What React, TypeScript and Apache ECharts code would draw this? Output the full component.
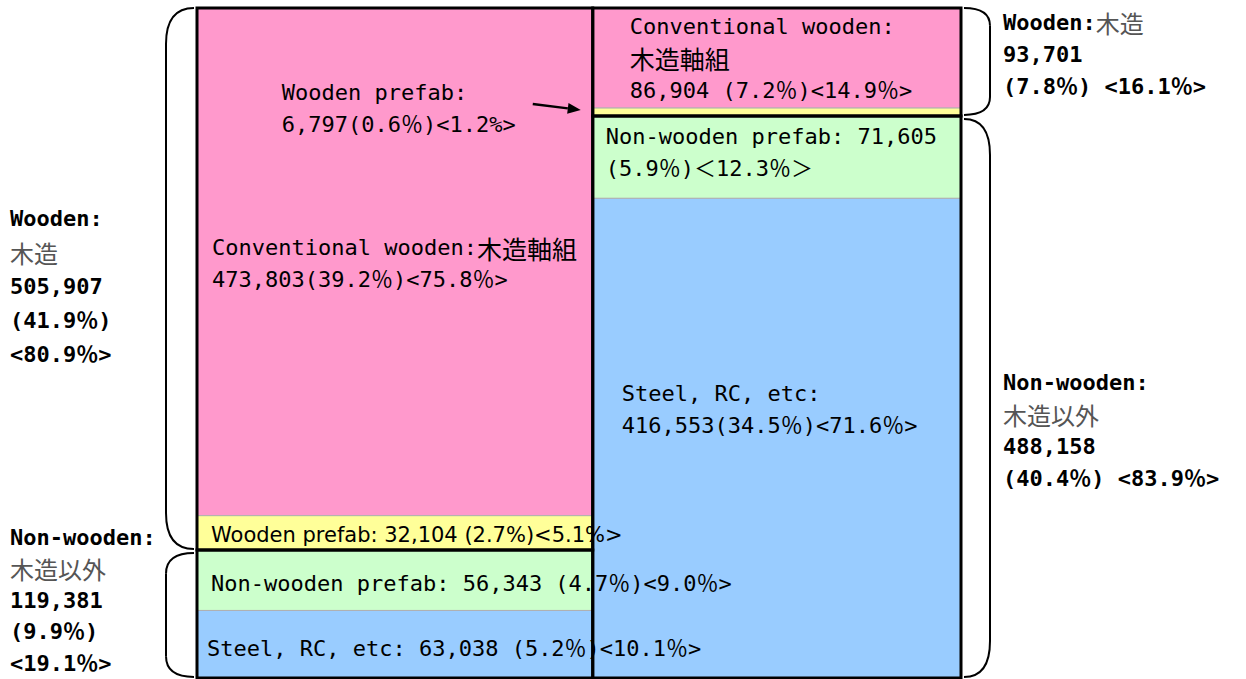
import React, { useEffect, useRef } from "react";
import * as echarts from "echarts";

// ---------- data ----------
const columnNames = ["Column A", "Column B"];
const structureTypes = ["Conventional wooden", "Wooden prefab", "Non-wooden prefab", "Steel, RC, etc"];
const columnAValues = [473803, 32104, 56343, 63038];
const columnBValues = [86904, 6797, 71605, 416553];
const structureGroup = [0, 0, 1, 1];
const groupNames = ["Wooden", "Non-wooden"];

const columnALabels = [
  "Conventional wooden:{j|木造軸組}\n473,803(39.2％)<75.8％>",
  "Wooden prefab: 32,104 (2.7%)<5.1%>",
  "Non-wooden prefab: 56,343 (4.7％)<9.0％>",
  "Steel, RC, etc: 63,038 (5.2％)<10.1％>",
];
const columnBLabels = [
  "Conventional wooden:\n{j|木造軸組}\n86,904 (7.2％)<14.9％>",
  "Wooden prefab:\n6,797(0.6％)<1.2%>",
  "Non-wooden prefab: 71,605\n(5.9％)＜12.3％＞",
  "Steel, RC, etc:\n416,553(34.5％)<71.6％>",
];
const columnAGroupLabels = [
  "{b|Wooden:}\n{g|木造}\n{b|505,907}\n{b|(41.9％)}\n{b|<80.9％>}",
  "{b|Non-wooden:}\n{g|木造以外}\n{b|119,381}\n{b|(9.9％)}\n{b|<19.1％>}",
];
const columnBGroupLabels = [
  "{b|Wooden:}{g|木造}\n{b|93,701}\n{b|(7.8％) <16.1％>}",
  "{b|Non-wooden:}\n{g|木造以外}\n{b|488,158}\n{b|(40.4％) <83.9％>}",
];

// ---------- styles ----------
const typeColors = ["#FF99CC", "#FFFF99", "#CCFFCC", "#99CCFF"];
const monoFont = "'DejaVu Sans Mono', 'Noto Sans CJK JP', monospace";
const cjkFont = "'Noto Sans CJK JP', sans-serif";
const cellLabelPlacement = [
  [
    { dx: 15, dy: 2 },
    { dx: 14, dy: 2, proportional: true },
    { dx: 14, dy: 3 },
    { dx: 10, dy: 4 },
  ],
  [
    { dx: 37, dy: 0 },
    { dx: -311, dy: -3, arrow: true },
    { dx: 13, dy: -5 },
    { dx: 29, dy: -29 },
  ],
];
const groupLabelPlacement = [
  [{ dy: 7, lh: 34 }, { dy: -14, lh: 31.5 }],
  [{ dy: -7, lh: 32 }, { dy: 34, lh: 32 }],
];

// ---------- derived tables ----------
const allColumns = [columnAValues, columnBValues];
const allCellLabels = [columnALabels, columnBLabels];
const allGroupLabels = [columnAGroupLabels, columnBGroupLabels];
const grandTotal = allColumns.reduce((s, col) => s + col.reduce((a, b) => a + b, 0), 0);

const cellData: number[][] = [];
const groupData: number[][] = [];
{
  let xStart = 0;
  allColumns.forEach((vals, c) => {
    const colTotal = vals.reduce((a, b) => a + b, 0);
    let yStart = 0;
    vals.forEach((v, t) => {
      cellData.push([xStart, xStart + colTotal, yStart / colTotal, (yStart + v) / colTotal, c, t]);
      yStart += v;
    });
    let gStart = 0;
    groupNames.forEach((_, g) => {
      const gSum = vals.reduce((a, v, t) => a + (structureGroup[t] === g ? v : 0), 0);
      groupData.push([xStart, xStart + colTotal, gStart / colTotal, (gStart + gSum) / colTotal, c, g]);
      gStart += gSum;
    });
    xStart += colTotal;
  });
}

export default function App() {
  const ref = useRef<HTMLDivElement>(null);
  useEffect(() => {
    if (!ref.current) return;
    const chart = echarts.init(ref.current, null, { renderer: "svg" });

    const box = (api: any) => {
      const p0 = api.coord([api.value(0), api.value(2)]);
      const p1 = api.coord([api.value(1), api.value(3)]);
      return { x0: p0[0], y0: p0[1], x1: p1[0], y1: p1[1] };
    };

    const option: any = {
      animation: false,
      grid: { left: 197, right: 285, top: 8, bottom: 1 },
      xAxis: { type: "value", min: 0, max: grandTotal, show: false },
      yAxis: { type: "value", min: 0, max: 1, inverse: true, show: false },
      tooltip: { show: false },
      series: [
        {
          name: "cells",
          type: "custom",
          z: 2,
          data: cellData,
          encode: { x: [0, 1], y: [2, 3] },
          renderItem: (params: any, api: any) => {
            const b = box(api);
            return {
              type: "rect",
              shape: { x: b.x0, y: b.y0, width: b.x1 - b.x0, height: b.y1 - b.y0 },
              style: { fill: typeColors[api.value(5)], stroke: "#b0b0b0", lineWidth: 1 },
            };
          },
        },
        {
          name: "cellLabels",
          type: "custom",
          z: 3,
          data: cellData,
          encode: { x: [0, 1], y: [2, 3] },
          renderItem: (params: any, api: any) => {
            const b = box(api);
            const c = api.value(4);
            const t = api.value(5);
            const pl: any = cellLabelPlacement[c][t];
            const midY = (b.y0 + b.y1) / 2;
            const children: any[] = [
              {
                type: "text",
                x: b.x0 + pl.dx,
                y: midY + pl.dy,
                style: {
                  text: allCellLabels[c][t],
                  fill: "#000",
                  fontFamily: pl.proportional ? "'DejaVu Sans', 'Noto Sans CJK JP', sans-serif" : monoFont,
                  fontSize: pl.proportional ? 21 : 22,
                  lineHeight: 32,
                  align: "left",
                  verticalAlign: "middle",
                  rich: {
                    j: { fontFamily: cjkFont, fontSize: 25, lineHeight: 32, fill: "#000" },
                  },
                },
              },
            ];
            if (pl.arrow) {
              const ex = b.x0 - 12;
              const ey = midY - 2;
              const sx = b.x0 - 60;
              const sy = midY - 8;
              const ang = Math.atan2(ey - sy, ex - sx);
              const L = 13;
              const W = 5.5;
              const bx = ex - L * Math.cos(ang);
              const by = ey - L * Math.sin(ang);
              children.push({
                type: "line",
                shape: { x1: sx, y1: sy, x2: bx, y2: by },
                style: { stroke: "#000", lineWidth: 2.5, fill: "none" },
              });
              children.push({
                type: "polygon",
                shape: {
                  points: [
                    [ex, ey],
                    [bx - W * Math.sin(ang), by + W * Math.cos(ang)],
                    [bx + W * Math.sin(ang), by - W * Math.cos(ang)],
                  ],
                },
                style: { fill: "#000" },
              });
            }
            return { type: "group", children };
          },
        },
        {
          name: "groupBorders",
          type: "custom",
          z: 4,
          data: groupData,
          encode: { x: [0, 1], y: [2, 3] },
          renderItem: (params: any, api: any) => {
            const b = box(api);
            return {
              type: "rect",
              shape: { x: b.x0, y: b.y0, width: b.x1 - b.x0, height: b.y1 - b.y0 },
              style: { fill: "none", stroke: "#000", lineWidth: 3 },
            };
          },
        },
        {
          name: "groupBraces",
          type: "custom",
          z: 5,
          data: groupData,
          encode: { x: [0, 1], y: [2, 3] },
          renderItem: (params: any, api: any) => {
            const b = box(api);
            const c = api.value(4);
            const g = api.value(5);
            const left = c === 0;
            const xin = left ? b.x0 - 3 : b.x1 + 3;
            const xout = left ? b.x0 - 31 : b.x1 + 29;
            const yt = b.y0 + (g === 0 ? 0 : 3);
            const yb = b.y1 - 1;
            const r = Math.min(36, (yb - yt) / 6);
            const lineStyle = { stroke: "#000", lineWidth: 2, fill: "none" };
            const pl = groupLabelPlacement[c][g];
            const midY = (b.y0 + b.y1) / 2;
            return {
              type: "group",
              children: [
                { type: "bezierCurve", shape: { x1: xin, y1: yt, x2: xout, y2: yt + r, cpx1: xout, cpy1: yt }, style: lineStyle },
                { type: "line", shape: { x1: xout, y1: yt + r, x2: xout, y2: yb - r }, style: lineStyle },
                { type: "bezierCurve", shape: { x1: xout, y1: yb - r, x2: xin, y2: yb, cpx1: xout, cpy1: yb }, style: lineStyle },
                {
                  type: "text",
                  x: left ? b.x0 - 187 : b.x1 + 42,
                  y: midY + pl.dy,
                  style: {
                    text: allGroupLabels[c][g],
                    align: "left",
                    verticalAlign: "middle",
                    fill: "#000",
                    fontSize: 22,
                    fontFamily: monoFont,
                    lineHeight: pl.lh,
                    rich: {
                      b: { fontFamily: monoFont, fontWeight: "bold", fontSize: 22, fill: "#000", lineHeight: pl.lh },
                      g: { fontFamily: cjkFont, fontWeight: "normal", fontSize: 24, fill: "#555", lineHeight: pl.lh },
                    },
                  },
                },
              ],
            };
          },
        },
      ],
    };
    chart.setOption(option);
    return () => chart.dispose();
  }, []);
  return (
    <div
      ref={ref}
      style={{ position: "absolute", left: 0, top: 0, width: 1246, height: 679, background: "#fff" }}
      data-columns={columnNames.join(",")}
      data-types={structureTypes.join(",")}
    />
  );
}
